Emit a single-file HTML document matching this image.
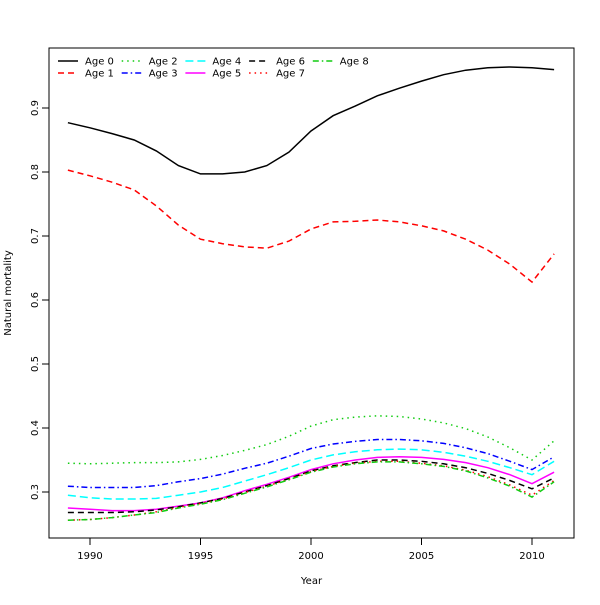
<!DOCTYPE html>
<html><head><meta charset="utf-8"><style>
body{margin:0;background:#fff;}
svg text{font-family:"DejaVu Sans","Liberation Sans",sans-serif;font-size:10px;fill:#000;}
</style></head><body>
<svg id="chart" width="600" height="600" xmlns="http://www.w3.org/2000/svg">
<rect width="600" height="600" fill="#fff"/>
<g id="axes"></g>
<g id="series"></g>
<g id="legend"></g>
<rect x="49" y="48" width="525" height="490" fill="none" stroke="#000" stroke-width="1"/>
</svg>
<script>
const years = [1989,1990,1991,1992,1993,1994,1995,1996,1997,1998,1999,2000,2001,2002,2003,2004,2005,2006,2007,2008,2009,2010,2011];
const age0 = [0.877,0.869,0.86,0.85,0.833,0.81,0.797,0.797,0.8,0.81,0.831,0.864,0.888,0.903,0.919,0.931,0.942,0.952,0.959,0.963,0.964,0.963,0.96];
const age1 = [0.803,0.794,0.784,0.772,0.747,0.717,0.695,0.688,0.683,0.681,0.692,0.711,0.722,0.723,0.725,0.722,0.716,0.708,0.695,0.678,0.656,0.628,0.672];
const age2 = [0.345,0.344,0.345,0.346,0.346,0.347,0.351,0.357,0.365,0.374,0.387,0.403,0.413,0.417,0.419,0.418,0.414,0.408,0.399,0.386,0.369,0.350,0.380];
const age3 = [0.309,0.307,0.307,0.307,0.310,0.316,0.321,0.328,0.337,0.345,0.356,0.368,0.375,0.379,0.382,0.382,0.380,0.376,0.369,0.360,0.348,0.335,0.355];
const age4 = [0.295,0.291,0.289,0.289,0.290,0.295,0.300,0.307,0.317,0.327,0.338,0.350,0.358,0.363,0.366,0.367,0.366,0.362,0.356,0.348,0.338,0.327,0.348];
const age5 = [0.275,0.273,0.271,0.271,0.273,0.278,0.283,0.291,0.302,0.312,0.323,0.335,0.344,0.350,0.354,0.355,0.354,0.351,0.346,0.338,0.327,0.313,0.331];
const age6 = [0.268,0.268,0.268,0.269,0.272,0.277,0.283,0.290,0.300,0.310,0.321,0.333,0.341,0.346,0.350,0.350,0.348,0.344,0.338,0.329,0.318,0.305,0.322];
const age7 = [0.256,0.257,0.260,0.264,0.269,0.276,0.282,0.289,0.299,0.309,0.320,0.332,0.340,0.345,0.348,0.348,0.345,0.341,0.334,0.324,0.311,0.295,0.318];
const age8 = [0.256,0.257,0.260,0.264,0.268,0.275,0.281,0.288,0.298,0.308,0.319,0.331,0.339,0.344,0.347,0.347,0.344,0.340,0.333,0.322,0.309,0.292,0.316];
const xTicks = [1990,1995,2000,2005,2010];
const yTicks = [0.3,0.4,0.5,0.6,0.7,0.8,0.9];
const seriesNames = ["Age 0","Age 1","Age 2","Age 3","Age 4","Age 5","Age 6","Age 7","Age 8"];

const NS="http://www.w3.org/2000/svg";
const xs = v => 90 + (v-1990)*22.1;
const ys = v => 492 - (v-0.3)*640;
function mk(tag, attrs, parent){const e=document.createElementNS(NS,tag);for(const k in attrs)e.setAttribute(k,attrs[k]);parent.appendChild(e);return e;}
const axes=document.getElementById('axes'), sg=document.getElementById('series'), lg=document.getElementById('legend');

xTicks.forEach(t=>{
  const l=mk('line',{x1:xs(t),x2:xs(t),y1:538,y2:545,stroke:'#000'},axes);
  
  
  const tx=mk('text',{x:xs(t),y:559,'text-anchor':'middle'},axes);tx.textContent=t;
  
  
});
mk('line',{x1:xs(1990),x2:xs(2010),y1:538,y2:538,stroke:'#000'},axes);
yTicks.forEach(t=>{
  const l=mk('line',{x1:42,x2:49,y1:ys(t),y2:ys(t),stroke:'#000'},axes);
  
  
  const tx=mk('text',{x:38,y:ys(t),'text-anchor':'middle',transform:`rotate(-90 38 ${ys(t)})`},axes);tx.textContent=t.toFixed(1);
  
  
});
const xt=mk('text',{x:311.5,y:584,'text-anchor':'middle'},axes);xt.textContent='Year';


const yt=mk('text',{x:11,y:293,'text-anchor':'middle',transform:'rotate(-90 11 293)'},axes);yt.textContent='Natural mortality';



const data=[age0,age1,age2,age3,age4,age5,age6,age7,age8];
const colors=['#000','#f00','#1c1','#00f','#0ff','#f0f','#000','#f00','#1c1'];
const dashes=['','6 4','1.5 4','6 3 1.5 3','8 4','','6 4','1.5 4','6 3 1.5 3'];
data.forEach((d,i)=>{
  const pts=d.map((v,j)=>xs(years[j]).toFixed(1)+','+ys(v).toFixed(1)).join(' ');
  const p=mk('polyline',{points:pts,fill:'none',stroke:colors[i],'stroke-width':1.5,'stroke-dasharray':dashes[i]},sg);
  
  
});
seriesNames.forEach((n,i)=>{
  const col=Math.floor(i/2), row=i%2;
  const x0=58+col*63.7, y0=61+row*12;
  const l=mk('line',{x1:x0,x2:x0+20,y1:y0,y2:y0,stroke:colors[i],'stroke-width':1.5,'stroke-dasharray':dashes[i]},lg);
  
  
  const t=mk('text',{x:x0+27,y:y0+3.5},lg);t.textContent=n;
  
  
});
</script>
</body></html>
